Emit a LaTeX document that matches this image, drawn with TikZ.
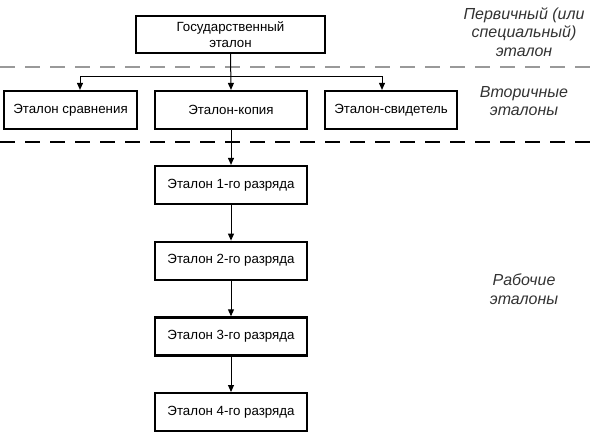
\documentclass[tikz,border=0pt]{standalone}
\usepackage{fontspec}
\setmainfont{Liberation Sans}
\usetikzlibrary{arrows.meta}

\tikzset{
  etbox/.style={draw, line width=2.2pt, fill=white, inner sep=0pt,
    minimum height=38pt, align=center,
    font=\fontsize{13.3pt}{16pt}\selectfont},
  levtext/.style={align=center, text=black!80,
    font=\fontsize{16pt}{18.5pt}\selectfont\itshape},
  sepline/.style={line width=1.4pt, dash pattern=on 15pt off 10pt}
}

\begin{document}
\begin{tikzpicture}[x=1pt, y=-1pt, >={Triangle[length=7pt, width=6pt]}, line width=1pt]
  \useasboundingbox (0,0) rectangle (593,436);
  % уровни
  \draw[sepline, black!40] (0,67) -- (593,67);
  \draw[sepline] (0,142) -- (593,142);
  \node[levtext] (lv1) at (524,32) {Первичный (или\\специальный)\\эталон};
  \node[levtext] (lv2) at (524,101) {Вторичные\\эталоны};
  \node[levtext] (lv3) at (524,289) {Рабочие\\эталоны};
  % государственный эталон
  \node[etbox, minimum width=189pt, minimum height=37pt] (gos) at (230.5,34.5) {Государственный\\эталон};
  % вторичные
  \node[etbox, minimum width=133pt] (srv) at (70.5,110) {Эталон сравнения};
  \node[etbox, minimum width=152pt] (kop) at (231,110) {Эталон-копия};
  \node[etbox, minimum width=132pt] (svd) at (391,110) {Эталон-свидетель};
  \coordinate (brL) at (80,76);
  \coordinate (brR) at (382,76);
  \draw[->] (gos.south) -- (kop.north);
  \draw[->] (brR) -- (brL) -- (brL |- srv.north);
  \draw[->] (brR) -- (brR |- svd.north);
  % рабочие
  \foreach \i/\y in {1/185,2/260.7,3/336.4,4/412.1}
    \node[etbox, minimum width=152pt] (raz\i) at (231,\y) {Эталон \i-го разряда};
  \draw[->] (kop.south) -- (raz1.north);
  \foreach \i/\j in {1/2,2/3,3/4}
    \draw[->] (raz\i.south) -- (raz\j.north);
\end{tikzpicture}
\end{document}
